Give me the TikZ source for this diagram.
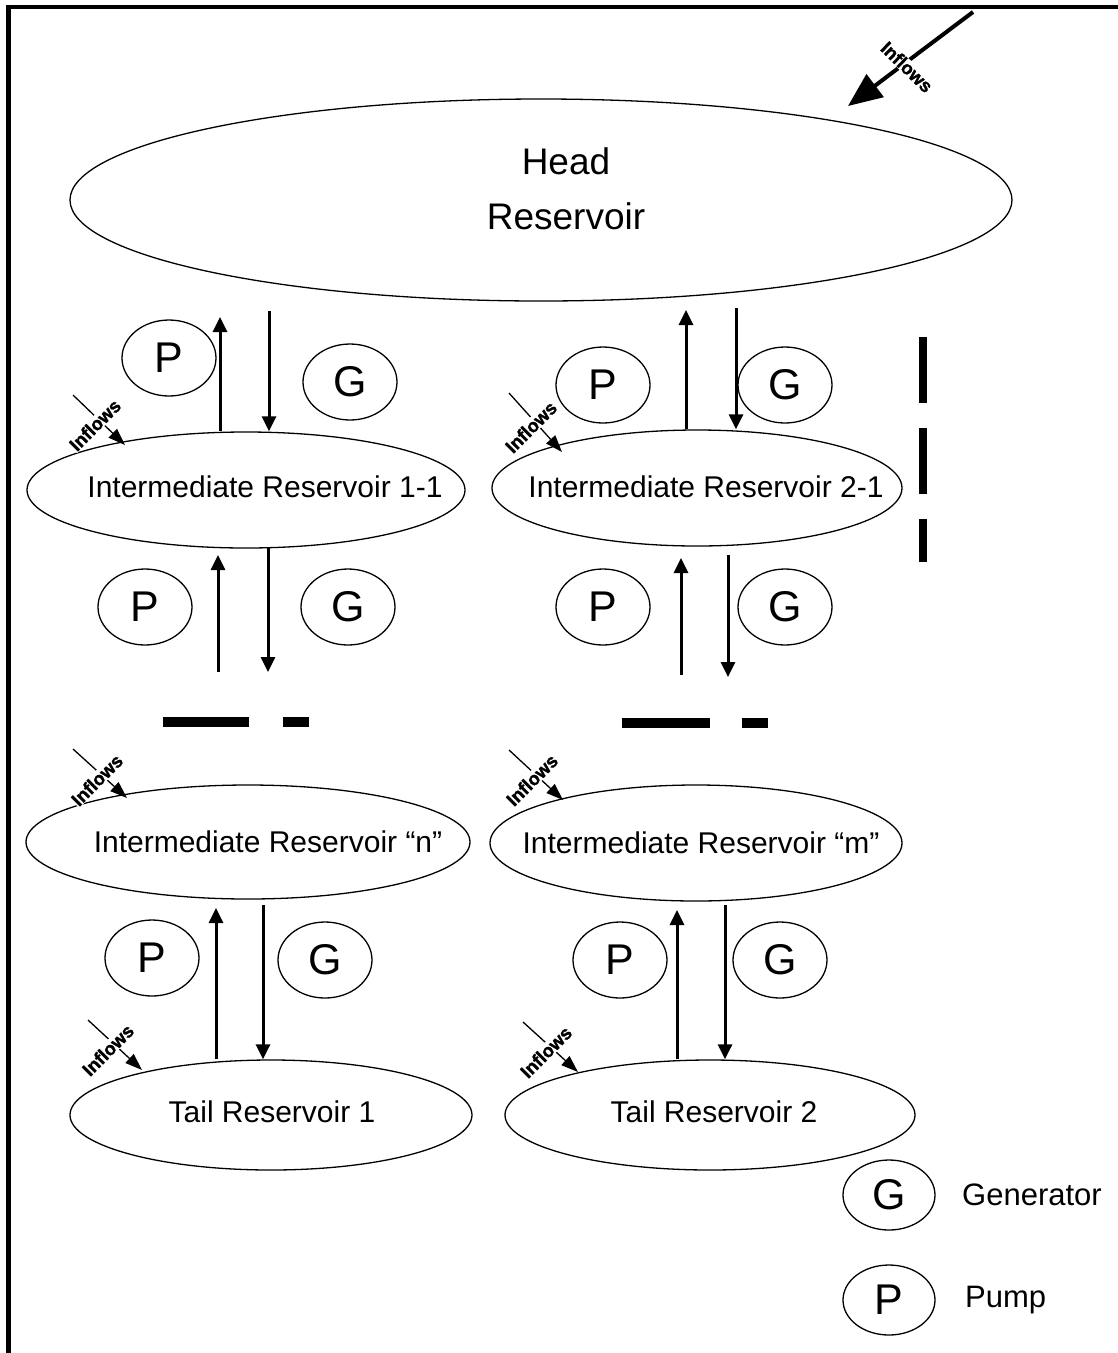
\documentclass[tikz,border=0pt]{standalone}
\usepackage{fontspec}
\setmainfont{Liberation Sans}
\newfontfamily\inflfont{Liberation Sans}[BoldFeatures={FakeBold=1.5}]
\usetikzlibrary{shapes.geometric,arrows.meta}
\begin{document}
\begin{tikzpicture}[x=1pt,y=-1pt,
  res/.style={draw,ellipse,line width=1.3pt,inner sep=0pt},
  restxt/.style={font=\fontsize{30}{36}\selectfont,inner sep=0pt},
  pg/.style={draw,ellipse,line width=1.3pt,minimum width=94pt,minimum height=76pt,inner sep=0pt,font=\fontsize{43}{43}\selectfont},
  legtxt/.style={font=\fontsize{31}{31}\selectfont,anchor=west,inner sep=0pt},
  flow/.style={line width=3pt,-{Triangle[length=15pt,width=14pt]}},
  infl/.style={line width=1.3pt,-{Triangle[length=17pt,width=12pt]}},
  infltxt/.style={fill=white,inner sep=0.5pt,font=\inflfont\bfseries\fontsize{18.5}{18.5}\selectfont},
  bar/.style={fill=black,draw=none},
]
\useasboundingbox (0,0) rectangle (1118,1353);
% frame
\draw[line width=4.5pt] (8.5,1400) -- (8.5,7) -- (1200,7);

% reservoirs
\node[res,minimum width=942pt,minimum height=202pt] (head) at (541,200) {};
\node[font=\fontsize{37}{55}\selectfont,align=center,inner sep=0pt] (headtxt) at (566,189) {Head\\Reservoir};

\node[res,minimum width=438pt,minimum height=116pt] (ir11) at (246,490) {};
\node[restxt] (ir11t) at (265,487) {Intermediate Reservoir 1-1};
\node[res,minimum width=410pt,minimum height=116pt] (ir21) at (697,488) {};
\node[restxt] (ir21t) at (706,487) {Intermediate Reservoir 2-1};
\node[res,minimum width=444pt,minimum height=114pt] (irn) at (248,842) {};
\node[restxt] (irnt) at (268,842) {Intermediate Reservoir “n”};
\node[res,minimum width=412pt,minimum height=116pt] (irm) at (696,843) {};
\node[restxt] (irmt) at (701,843) {Intermediate Reservoir “m”};
\node[res,minimum width=402pt,minimum height=110pt] (tail1) at (271,1115) {};
\node[restxt] (tail1t) at (272,1112) {Tail Reservoir 1};
\node[res,minimum width=410pt,minimum height=110pt] (tail2) at (710,1115) {};
\node[restxt] (tail2t) at (714,1112) {Tail Reservoir 2};

% pumps and generators
\node[pg] (p1) at (169,358) {P};
\node[pg] (g1) at (350,382) {G};
\node[pg] (p2) at (603,385) {P};
\node[pg] (g2) at (785,385) {G};
\node[pg] (p3) at (145,607) {P};
\node[pg] (g3) at (348,607) {G};
\node[pg] (p4) at (603,607) {P};
\node[pg] (g4) at (785,607) {G};
\node[pg] (p5) at (152,958) {P};
\node[pg] (g5) at (325,960) {G};
\node[pg] (p6) at (620,960) {P};
\node[pg] (g6) at (780,960) {G};

% flows
\coordinate (u1) at (220,317);
\coordinate (d1) at (269,311);
\draw[flow] (220,0 |- ir11.north) -- (u1);
\draw[flow] (d1) -- (269,0 |- ir11.north);
\coordinate (u2) at (686,310);
\coordinate (d2) at (736,308);
\draw[flow] (686,0 |- ir21.north) -- (u2);
\draw[flow] (d2) -- (736,0 |- ir21.north);
\coordinate (u3) at (218,555);
\coordinate (d3) at (268,548);
\coordinate (b3) at (218,672);
\coordinate (e3) at (268,672);
\draw[flow] (b3) -- (u3);
\draw[flow] (d3) -- (e3);
\coordinate (u4) at (681,558);
\coordinate (d4) at (728,555);
\coordinate (b4) at (681,675);
\coordinate (e4) at (728,677);
\draw[flow] (b4) -- (u4);
\draw[flow] (d4) -- (e4);
\coordinate (u5) at (216,908);
\coordinate (d5) at (263,905);
\draw[flow] (216,0 |- tail1.north) -- (u5);
\draw[flow] (d5) -- (263,0 |- tail1.north);
\coordinate (u6) at (677,910);
\coordinate (d6) at (725,905);
\draw[flow] (677,0 |- tail2.north) -- (u6);
\draw[flow] (d6) -- (725,0 |- tail2.north);

% inflows
\coordinate (inA) at (973,12);
\coordinate (inAe) at (848,106);
\draw[line width=4pt,-{Triangle[length=34pt,width=28pt]}] (inA) -- (inAe);
\node[infltxt,rotate=-44] (inAt) at (907,67) {Inflows};

\coordinate (in1) at (73,395);
\coordinate (in1e) at (125,445);
\draw[infl] (in1) -- (in1e);
\node[infltxt,rotate=45] (in1t) at (95,425) {Inflows};
\coordinate (in2) at (509,393);
\coordinate (in2e) at (562,452);
\draw[infl] (in2) -- (in2e);
\node[infltxt,rotate=45] (in2t) at (531,427) {Inflows};
\coordinate (in3) at (73,749);
\coordinate (in3e) at (127,798);
\draw[infl] (in3) -- (in3e);
\node[infltxt,rotate=45] (in3t) at (97,780) {Inflows};
\coordinate (in4) at (509,750);
\coordinate (in4e) at (563,800);
\draw[infl] (in4) -- (in4e);
\node[infltxt,rotate=45] (in4t) at (532,780) {Inflows};
\coordinate (in5) at (88,1020);
\coordinate (in5e) at (142,1070);
\draw[infl] (in5) -- (in5e);
\node[infltxt,rotate=45] (in5t) at (108,1050) {Inflows};
\coordinate (in6) at (523,1022);
\coordinate (in6e) at (578,1072);
\draw[infl] (in6) -- (in6e);
\node[infltxt,rotate=45] (in6t) at (546,1052) {Inflows};

% dashes
\fill[bar] (163,717) rectangle (249,727);
\fill[bar] (283,717) rectangle (309,727);
\fill[bar] (622,718) rectangle (710,728);
\fill[bar] (742,718) rectangle (768,728);
\fill[bar] (919,337) rectangle (927,403);
\fill[bar] (919,428) rectangle (927,494);
\fill[bar] (919,519) rectangle (927,562);

% legend
\node[pg,minimum width=92pt,minimum height=70pt] (lg) at (889,1195) {G};
\node[legtxt] (lgt) at (962,1195) {Generator};
\node[pg,minimum width=92pt,minimum height=70pt] (lp) at (889,1300) {P};
\node[legtxt] (lpt) at (965,1300) {Pump};
\end{tikzpicture}
\end{document}
